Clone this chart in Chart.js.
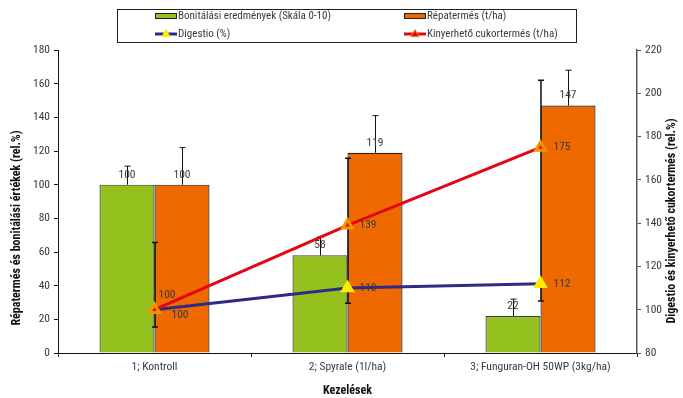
<!DOCTYPE html>
<html>
<head>
<meta charset="utf-8">
<script src="https://cdn.jsdelivr.net/npm/chart.js@4.4.3/dist/chart.umd.min.js"></script>
<style>
  html, body { margin: 0; padding: 0; background: #fff; }
  #wrap { width: 683px; height: 398px; position: relative; }
</style>
</head>
<body>
<div id="wrap"><canvas id="chart"></canvas></div>
<script>
/* Bonitálás / répatermés — kombinált oszlop + vonal diagram */
const categories     = ['1; Kontroll', '2; Spyrale (1l/ha)', '3; Funguran-OH 50WP (3kg/ha)'];
const bonitalas      = [100, 58, 22];
const bonitalasErrHi = [111, 69, 32];
const repatermes     = [100, 119, 147];
const repatermesErrHi = [122, 141, 168];
const digestio       = [100, 110, 112];
const cukortermes    = [100, 139, 175];
const cukorErrLo     = [92, 103, 104];
const cukorErrHi     = [131, 170, 206];
const leftTicks      = [0, 20, 40, 60, 80, 100, 120, 140, 160, 180];
const rightTicks     = [80, 100, 120, 140, 160, 180, 200, 220];

const FONT = '"Liberation Sans Narrow", "Roboto Condensed", Roboto, sans-serif';
const TXT  = '#3a3a3a';
const GREEN = '#95c11f', ORANGE = '#ee6a00', RED = '#e30613', NAVY = '#2d2a88', YELLOW = '#ffec00';

// label offsets (px) from each line point: [dx, dy]
const lineLabelOffsets = {
  2: [[17, 5], [12, 0], [13, 0]],
  3: [[4, -15], [12, 0], [13, 0]]
};

function tri(ctx, x, y, r, fill, stroke) {
  ctx.beginPath();
  ctx.moveTo(x, y - r);
  ctx.lineTo(x + r * 0.9, y + r * 0.6);
  ctx.lineTo(x - r * 0.9, y + r * 0.6);
  ctx.closePath();
  ctx.fillStyle = fill; ctx.fill();
  ctx.strokeStyle = stroke; ctx.lineWidth = 1; ctx.stroke();
}

const extras = {
  id: 'extras',
  beforeDatasetDraw(chart, args) {
    if (args.index !== 2) return;   // after bars, before lines
    const ctx = chart.ctx, yL = chart.scales.y, yR = chart.scales.y1;
    ctx.save();
    ctx.strokeStyle = '#111';
    [[0, bonitalas, bonitalasErrHi], [1, repatermes, repatermesErrHi]].forEach(([di, val, hi]) => {
      chart.getDatasetMeta(di).data.forEach((bar, i) => {
        const x = Math.round(bar.x) + 0.5, yTop = yL.getPixelForValue(hi[i]);
        ctx.lineWidth = 1;
        ctx.beginPath();
        ctx.moveTo(x, yL.getPixelForValue(val[i])); ctx.lineTo(x, yTop);
        ctx.moveTo(x - 3, yTop); ctx.lineTo(x + 3, yTop);
        ctx.stroke();
      });
    });
    chart.getDatasetMeta(3).data.forEach((pt, i) => {
      const x = Math.round(pt.x), y1 = yR.getPixelForValue(cukorErrLo[i]), y2 = yR.getPixelForValue(cukorErrHi[i]);
      ctx.lineWidth = 1.5;
      ctx.beginPath();
      ctx.moveTo(x, y1); ctx.lineTo(x, y2);
      ctx.moveTo(x - 3, y1); ctx.lineTo(x + 3, y1);
      ctx.moveTo(x - 3, y2); ctx.lineTo(x + 3, y2);
      ctx.stroke();
    });
    ctx.restore();
  },
  afterDatasetsDraw(chart) {
    const ctx = chart.ctx;
    ctx.save();
    ctx.font = '11.5px ' + FONT;
    ctx.fillStyle = TXT;
    ctx.textBaseline = 'middle';
    ctx.textAlign = 'center';
    [0, 1].forEach(di => {
      const vals = chart.data.datasets[di].data;
      chart.getDatasetMeta(di).data.forEach((bar, i) => ctx.fillText(vals[i], bar.x, bar.y - 10));
    });
    ctx.textAlign = 'left';
    [2, 3].forEach(di => {
      const vals = chart.data.datasets[di].data;
      chart.getDatasetMeta(di).data.forEach((pt, i) => {
        const [dx, dy] = lineLabelOffsets[di][i];
        ctx.fillText(vals[i], pt.x + dx, pt.y + dy);
      });
    });
    ctx.restore();
  },
  afterDraw(chart) {
    const ctx = chart.ctx;
    ctx.save();
    // legend box
    ctx.strokeStyle = '#222'; ctx.lineWidth = 1;
    ctx.strokeRect(117.5, 9.5, 459, 33);
    ctx.font = '11px ' + FONT;
    ctx.textBaseline = 'middle'; ctx.textAlign = 'left';
    const items = [
      { ds: 0, x: 155, y: 16 }, { ds: 1, x: 404, y: 16 },
      { ds: 2, x: 155, y: 34 }, { ds: 3, x: 404, y: 34 }
    ];
    items.forEach(it => {
      const d = chart.data.datasets[it.ds];
      if (d.type === 'bar') {
        ctx.fillStyle = d.backgroundColor;
        ctx.fillRect(it.x, it.y - 3, 22, 6);
        ctx.strokeStyle = '#222'; ctx.lineWidth = 1;
        ctx.strokeRect(it.x + 0.5, it.y - 2.5, 21, 5);
      } else {
        ctx.strokeStyle = d.borderColor; ctx.lineWidth = 3;
        ctx.beginPath(); ctx.moveTo(it.x, it.y); ctx.lineTo(it.x + 22, it.y); ctx.stroke();
        tri(ctx, it.x + 11, it.y, 4.5, d.pointBackgroundColor, d.pointBorderColor);
      }
      ctx.fillStyle = TXT;
      ctx.fillText(d.label, it.x + 23, it.y);
    });
    // vertical axis titles
    ctx.font = 'bold 12px ' + FONT;
    ctx.fillStyle = '#111'; ctx.textAlign = 'center';
    ctx.save(); ctx.translate(17, 228); ctx.rotate(-Math.PI / 2);
    ctx.fillText('Répatermés és bonitálási értékek (rel.%)', 0, 0); ctx.restore();
    ctx.save(); ctx.translate(672, 221); ctx.rotate(-Math.PI / 2);
    ctx.fillText('Digestio és kinyerhető cukortermés (rel.%)', 0, 0); ctx.restore();
    ctx.restore();
  }
};

const tickFont = { family: FONT, size: 11.5 };

new Chart(document.getElementById('chart'), {
  data: {
    labels: categories,
    datasets: [
      { type: 'bar', label: 'Bonitálási eredmények (Skála 0-10)', data: bonitalas, yAxisID: 'y',
        backgroundColor: GREEN, borderColor: '#3c3c3c', borderWidth: 1.2, order: 2,
        categoryPercentage: 0.57, barPercentage: 1 },
      { type: 'bar', label: 'Répatermés (t/ha)', data: repatermes, yAxisID: 'y',
        backgroundColor: ORANGE, borderColor: '#222', borderWidth: 1.2, order: 2,
        categoryPercentage: 0.57, barPercentage: 1 },
      { type: 'line', label: 'Digestio (%)', data: digestio, yAxisID: 'y1',
        borderColor: NAVY, borderWidth: 3, pointStyle: 'triangle', pointRadius: 5.5,
        pointBackgroundColor: YELLOW, pointBorderColor: YELLOW, order: 1, tension: 0 },
      { type: 'line', label: 'Kinyerhető cukortermés (t/ha)', data: cukortermes, yAxisID: 'y1',
        borderColor: RED, borderWidth: 3, pointStyle: 'triangle', pointRadius: 5.5,
        pointBackgroundColor: RED, pointBorderColor: '#f39200', order: 0, tension: 0 }
    ]
  },
  options: {
    responsive: true,
    maintainAspectRatio: false,
    animation: false,
    layout: { padding: { top: 50, left: 0, right: 0, bottom: 0 } },
    plugins: { legend: { display: false }, tooltip: { enabled: false } },
    scales: {
      x: {
        grid: { display: true, drawOnChartArea: false, offset: true, tickLength: 4, color: '#222' },
        border: { color: '#111', width: 1 },
        ticks: { font: tickFont, color: TXT, padding: 3, maxRotation: 0 },
        title: { display: true, text: 'Kezelések', font: { family: FONT, size: 12, weight: 'bold' }, color: '#111', padding: { top: 0, bottom: 0 } },
        afterFit: s => { s.height = 45; }
      },
      y: {
        position: 'left', min: 0, max: 180,
        afterBuildTicks: s => { s.ticks = leftTicks.map(v => ({ value: v })); },
        grid: { drawOnChartArea: false, tickLength: 4, color: '#111' },
        border: { color: '#111', width: 1 },
        ticks: { font: tickFont, color: TXT, padding: 4 },
        afterFit: s => { s.width = 58; }
      },
      y1: {
        position: 'right', min: 80, max: 220,
        afterBuildTicks: s => { s.ticks = rightTicks.map(v => ({ value: v })); },
        grid: { drawOnChartArea: false, tickLength: 4, color: '#555' },
        border: { color: '#555', width: 1.5 },
        ticks: { font: tickFont, color: TXT, padding: 4 },
        afterFit: s => { s.width = 46; }
      }
    }
  },
  plugins: [extras]
});
</script>
</body>
</html>
